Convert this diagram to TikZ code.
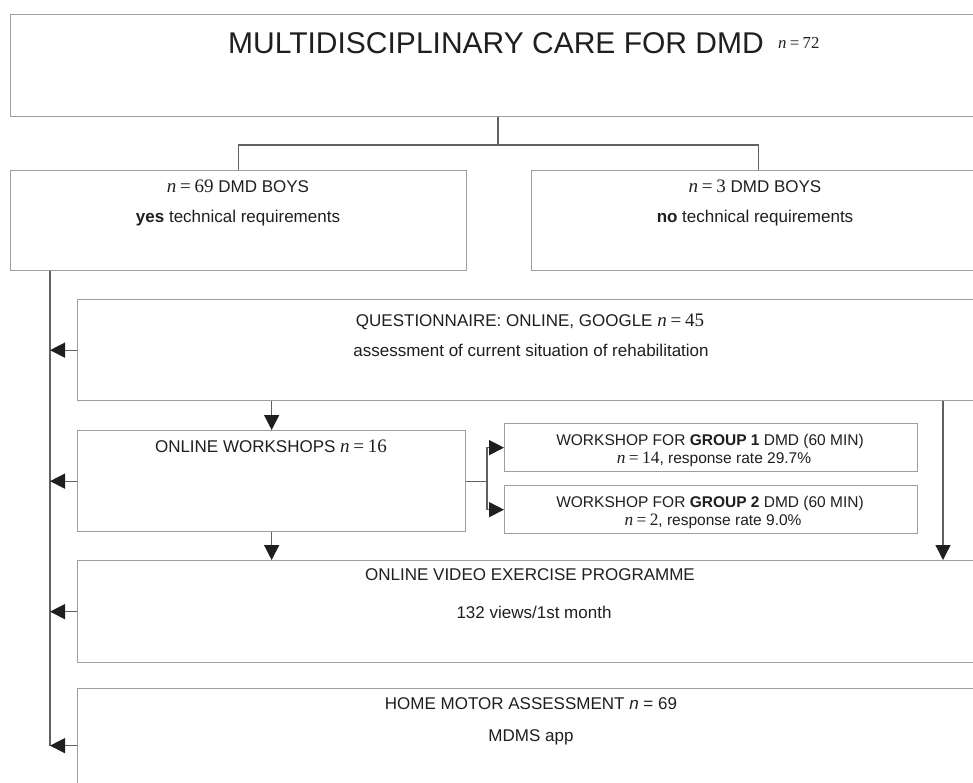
\documentclass[tikz,border=0pt]{standalone}
\usepackage{fontspec}
\setmainfont{Liberation Sans}
\newfontfamily\serifn[Scale=1.12]{Liberation Serif}
\newcommand{\nv}[1]{{\serifn\itshape n}\hspace{0.22em}{\serifn =}\hspace{0.22em}{\serifn #1}}
\usetikzlibrary{arrows.meta,positioning}

\tikzset{
	box/.style={draw=black!38, line width=1.3pt, anchor=north west, inner sep=0pt},
	link/.style={draw=black!62, line width=1.3pt},
	arr/.style={link, -{Triangle[length=15pt, width=15pt, color=black!88]}},
	lbl/.style={anchor=base, inner sep=0pt, text=black!88, font=\fontsize{17}{20}\selectfont},
	small/.style={lbl, font=\fontsize{15.5}{18}\selectfont},
}

\begin{document}
\begin{tikzpicture}[x=1pt, y=-1pt]
	%%%%% START %%%%%
	\useasboundingbox (0,0) rectangle (973,782);
	\clip (0,0) rectangle (973,782);
	\fill[white] (0,0) rectangle (973,782);
	
	% top box
	\node[box, minimum width=1000pt, minimum height=102pt] (care) at (10,14) {};
	\node[lbl, anchor=base west, font=\fontsize{30}{34}\selectfont] (careT) at (228,53) {MULTIDISCIPLINARY CARE FOR DMD};
	\node[lbl, anchor=base west, font=\fontsize{15}{17}\selectfont] (careN) at (778,48) {\nv{72}};
	
	% the two groups of boys
	\node[box, minimum width=456pt, minimum height=100pt] (yes) at (10,170) {};
	\node[lbl] (yesA) at (238,192) {\nv{69} DMD BOYS};
	\node[lbl] (yesB) at (238,222) {\textbf{yes} technical requirements};
	
	\node[box, minimum width=454pt, minimum height=100pt] (no) at (531,170) {};
	\node[lbl] (noA) at (755,192) {\nv{3} DMD BOYS};
	\node[lbl] (noB) at (755,222) {\textbf{no} technical requirements};
	
	% questionnaire
	\node[box, minimum width=906pt, minimum height=101pt] (quest) at (77,299) {};
	\node[lbl] (questA) at (530,326) {QUESTIONNAIRE: ONLINE, GOOGLE \nv{45}};
	\node[lbl] (questB) at (531,356) {assessment of current situation of rehabilitation};
	
	% workshops
	\node[box, minimum width=388pt, minimum height=101pt] (ws) at (77,430) {};
	\node[lbl] (wsA) at (271,452) {ONLINE WORKSHOPS \nv{16}};
	
	\node[box, minimum width=413pt, minimum height=48pt] (g1) at (504,423) {};
	\node[small] (g1A) at (710,445) {WORKSHOP FOR \textbf{GROUP 1} DMD (60 MIN)};
	\node[small] (g1B) at (714,463) {\nv{14}, response rate 29.7\%};
	
	\node[box, minimum width=413pt, minimum height=48pt] (g2) at (504,485) {};
	\node[small] (g2A) at (710,507) {WORKSHOP FOR \textbf{GROUP 2} DMD (60 MIN)};
	\node[small] (g2B) at (713,525) {\nv{2}, response rate 9.0\%};
	
	% video programme
	\node[box, minimum width=906pt, minimum height=102pt] (video) at (77,560) {};
	\node[lbl] (videoA) at (530,580) {ONLINE VIDEO EXERCISE PROGRAMME};
	\node[lbl] (videoB) at (534,618) {132 views/1st month};
	
	% home assessment
	\node[box, minimum width=906pt, minimum height=114pt] (home) at (77,688) {};
	\node[lbl] (homeA) at (531,709) {HOME MOTOR ASSESSMENT {\itshape n} = 69};
	\node[lbl] (homeB) at (531,741) {MDMS app};
	
	% connectors
	\coordinate (split) at (498,145);
	\coordinate (spine) at (50,0);
	\coordinate (rail) at (943,0);
	\coordinate (fork) at (487,0);
	
	\draw[link] (split |- care.south) -- (split);
	\draw[link] (yes.north) |- (split) -| (no.north);
	
	\draw[link] (spine |- yes.south) -- (spine |- home.west);
	\foreach \b in {quest,ws,video,home}
		\draw[arr] (\b.west) -- (spine |- \b.west);
	
	\draw[arr] (quest.south -| ws.north) -- (ws.north);
	\draw[arr] (ws.south) -- (ws.south |- video.north);
	\draw[arr] (rail |- quest.south) -- (rail |- video.north);
	
	\draw[link] (ws.east) -- (fork |- ws.east);
	\draw[arr] (fork |- ws.east) |- (g1.west);
	\draw[arr] (fork |- ws.east) |- (g2.west);
	
	%%%%% END %%%%%
\end{tikzpicture}
\end{document}
